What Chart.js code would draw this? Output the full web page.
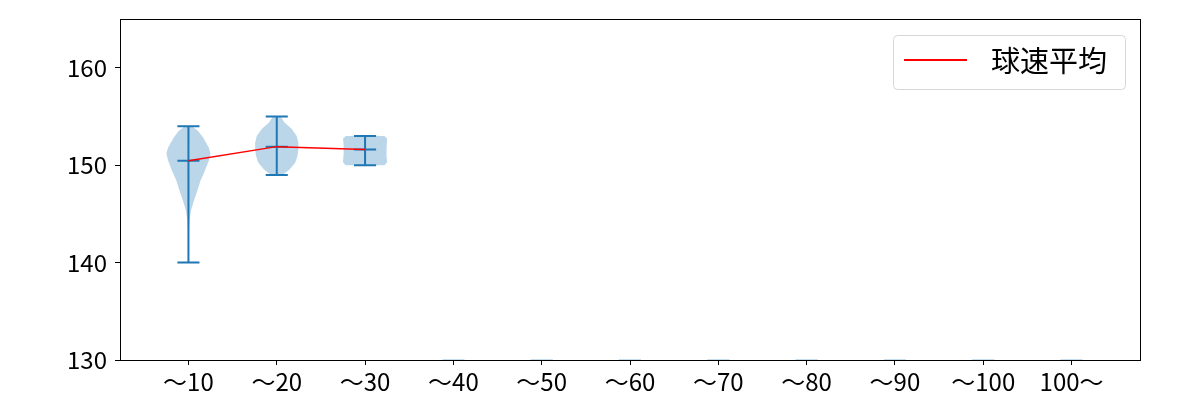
<!DOCTYPE html>
<html>
<head>
<meta charset="utf-8">
<script src="https://cdn.jsdelivr.net/npm/chart.js@4"></script>
<style>
  body { margin: 0; background: #fff; }
  #chart { display: block; }
</style>
</head>
<body>
<canvas id="chart" width="1200" height="400"></canvas>
<script>
const categories = ['〜10', '〜20', '〜30', '〜40', '〜50', '〜60', '〜70', '〜80', '〜90', '〜100', '100〜']
const yTicks = [130, 140, 150, 160]

const speedMax = [154, 155, 153]
const speedMin = [140, 149, 150]
const speedMean = [150.45, 151.9, 151.6]

// categories with no pitches only leave a faint mark on the bottom edge
const emptyPositions = [3, 4, 5, 6, 7, 8, 9, 10]

// violin outlines: speed level and half width (in category units)
const violin10Speed = [140, 143, 144.3, 145.3, 146.3, 147.35, 148.4, 149.4, 150.45, 151.2, 151.8, 152.85, 153.5, 154]
const violin10Width = [0.002, 0.005, 0.012, 0.027, 0.06, 0.1, 0.136, 0.185, 0.23, 0.25, 0.23, 0.166, 0.11, 0.04]
const violin20Speed = [149, 149.2, 149.6, 150.27, 150.96, 151.65, 152.3, 153.0, 153.7, 154.4, 155]
const violin20Width = [0.06, 0.095, 0.15, 0.21, 0.235, 0.245, 0.245, 0.226, 0.17, 0.085, 0.045]
const violin30Speed = [150, 150.3, 151, 151.5, 152, 152.7, 153]
const violin30Width = [0.22, 0.25, 0.245, 0.24, 0.245, 0.25, 0.22]

const blue = '#1f77b4'
const font = { family: "'Noto Sans CJK JP', 'Noto Sans', sans-serif", size: 24 }

function outline(pos, speeds, widths) {
  let pts = []
  for (let i = 0; i < speeds.length; i++) pts.push({ x: pos - widths[i], y: speeds[i] })
  for (let i = speeds.length - 1; i >= 0; i--) pts.push({ x: pos + widths[i], y: speeds[i] })
  return pts
}

// whiskers: vertical line, min/max caps, mean tick
let whiskers = []
const cap = 0.125
speedMax.forEach((mx, i) => {
  const mn = speedMin[i]
  whiskers.push({ x: i, y: mn }, { x: i, y: mx }, { x: i, y: NaN })
  whiskers.push({ x: i - cap, y: mx }, { x: i + cap, y: mx }, { x: i, y: NaN })
  whiskers.push({ x: i - cap, y: mn }, { x: i + cap, y: mn }, { x: i, y: NaN })
  whiskers.push({ x: i - cap, y: speedMean[i] }, { x: i + cap, y: speedMean[i] }, { x: i, y: NaN })
})

let emptyMarks = []
emptyPositions.forEach(p => {
  emptyMarks.push({ x: p - cap, y: 130 }, { x: p + cap, y: 130 }, { x: p, y: NaN })
})

const violins = [
  outline(0, violin10Speed, violin10Width),
  outline(1, violin20Speed, violin20Width),
  outline(2, violin30Speed, violin30Width)
]

let datasets = [
  {
    label: '球速平均',
    data: speedMean.map((v, i) => ({ x: i, y: v })),
    showLine: true, borderColor: 'red', borderWidth: 1.5, pointRadius: 0, fill: false
  },
  {
    label: 'whiskers',
    data: whiskers,
    showLine: true, spanGaps: false, borderColor: blue, borderWidth: 2, pointRadius: 0, fill: false
  },
  {
    label: 'empty',
    data: emptyMarks,
    showLine: true, spanGaps: false, borderColor: 'rgba(31,119,180,0.25)', borderWidth: 2, pointRadius: 0, fill: false
  }
]
violins.forEach(v => {
  datasets.push({
    label: 'violin',
    data: v,
    showLine: true, borderWidth: 0, borderColor: 'rgba(0,0,0,0)',
    backgroundColor: 'rgba(31,119,180,0.3)', fill: 'shape', pointRadius: 0, tension: 0
  })
})

const frame = {
  id: 'frame',
  afterDraw(chart) {
    const { ctx, chartArea: a } = chart
    ctx.save()
    ctx.strokeStyle = '#000'
    ctx.lineWidth = 1
    ctx.strokeRect(a.left + 0.5, a.top + 0.5, a.right - a.left, a.bottom - a.top)
    ctx.restore()
  }
}

const legendBox = {
  id: 'legendBox',
  afterDraw(chart) {
    const ctx = chart.ctx
    const ds = chart.data.datasets[0]
    ctx.save()
    ctx.beginPath()
    ctx.roundRect(893.5, 35.5, 232, 54, 4)
    ctx.fillStyle = 'rgba(255,255,255,0.8)'
    ctx.fill()
    ctx.strokeStyle = '#d6d6d6'
    ctx.lineWidth = 1
    ctx.stroke()
    ctx.beginPath()
    ctx.moveTo(904, 60)
    ctx.lineTo(967, 60)
    ctx.strokeStyle = ds.borderColor
    ctx.lineWidth = 2
    ctx.stroke()
    ctx.fillStyle = '#000'
    ctx.font = "29px 'Noto Sans CJK JP'"
    ctx.textBaseline = 'middle'
    ctx.fillText(ds.label, 991, 61)
    ctx.restore()
  }
}

new Chart(document.getElementById('chart'), {
  type: 'scatter',
  data: { datasets },
  options: {
    responsive: false,
    animation: false,
    devicePixelRatio: 1,
    layout: { padding: { top: 19, right: 60, left: 0, bottom: 0 } },
    plugins: { legend: { display: false }, tooltip: { enabled: false } },
    scales: {
      x: {
        type: 'linear', min: -0.775, max: 10.775,
        afterBuildTicks: s => { s.ticks = categories.map((c, i) => ({ value: i })) },
        afterFit: s => { s.height = 40 },
        ticks: { callback: v => categories[v], autoSkip: false, maxRotation: 0, color: '#000', font, padding: 2 },
        grid: { drawOnChartArea: false, tickLength: 5, color: '#000' },
        border: { color: '#000' }
      },
      y: {
        min: 130, max: 165,
        afterBuildTicks: s => { s.ticks = yTicks.map(v => ({ value: v })) },
        afterFit: s => { s.width = 120; s.paddingTop = 0 },
        ticks: { color: '#000', font, padding: 8 },
        grid: { drawOnChartArea: false, tickLength: 5, color: '#000' },
        border: { color: '#000' }
      }
    }
  },
  plugins: [frame, legendBox]
})
</script>
</body>
</html>
